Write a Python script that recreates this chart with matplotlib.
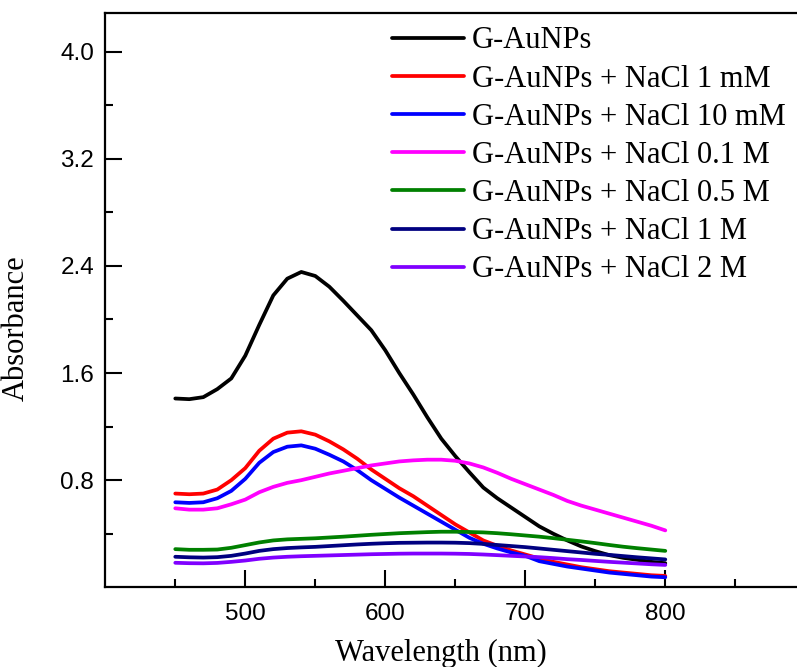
import matplotlib
matplotlib.use("Agg")
import matplotlib.pyplot as plt
from matplotlib.ticker import FixedLocator

wavelength = [450, 460, 470, 480, 490, 500, 510, 520, 530, 540, 550, 560, 570, 580, 590,
              600, 610, 620, 630, 640, 650, 660, 670, 680, 690, 700, 710, 720, 730, 740,
              750, 760, 770, 780, 790, 800]

g_aunps = [1.41, 1.405, 1.42, 1.48, 1.56, 1.73, 1.96, 2.18, 2.305, 2.355, 2.325, 2.245, 2.14,
           2.03, 1.92, 1.77, 1.60, 1.44, 1.27, 1.11, 0.98, 0.86, 0.745, 0.665, 0.595, 0.525,
           0.455, 0.40, 0.35, 0.305, 0.27, 0.24, 0.22, 0.205, 0.19, 0.18]
nacl_1mM = [0.70, 0.695, 0.70, 0.73, 0.80, 0.89, 1.02, 1.11, 1.155, 1.165, 1.14, 1.09, 1.03,
            0.96, 0.88, 0.81, 0.74, 0.68, 0.61, 0.54, 0.47, 0.41, 0.35, 0.31, 0.275, 0.245,
            0.215, 0.19, 0.17, 0.15, 0.135, 0.12, 0.11, 0.10, 0.09, 0.085]
nacl_10mM = [0.635, 0.63, 0.635, 0.665, 0.72, 0.81, 0.93, 1.01, 1.05, 1.06, 1.035, 0.99, 0.94,
             0.875, 0.80, 0.735, 0.67, 0.61, 0.55, 0.49, 0.43, 0.37, 0.325, 0.29, 0.26, 0.235,
             0.195, 0.175, 0.155, 0.14, 0.125, 0.11, 0.10, 0.09, 0.08, 0.075]
nacl_01M = [0.59, 0.58, 0.58, 0.59, 0.62, 0.655, 0.71, 0.75, 0.78, 0.80, 0.825, 0.85, 0.87,
            0.89, 0.91, 0.925, 0.94, 0.948, 0.953, 0.953, 0.945, 0.925, 0.895, 0.855, 0.81,
            0.77, 0.73, 0.69, 0.645, 0.61, 0.58, 0.55, 0.52, 0.49, 0.46, 0.425]
nacl_05M = [0.285, 0.28, 0.28, 0.282, 0.295, 0.315, 0.335, 0.35, 0.358, 0.362, 0.366, 0.372,
            0.378, 0.385, 0.392, 0.398, 0.404, 0.408, 0.412, 0.415, 0.415, 0.413, 0.41, 0.404,
            0.396, 0.387, 0.378, 0.367, 0.355, 0.343, 0.33, 0.316, 0.303, 0.292, 0.282, 0.272]
nacl_1M = [0.228, 0.224, 0.222, 0.225, 0.235, 0.252, 0.272, 0.285, 0.293, 0.298, 0.302, 0.308,
           0.314, 0.32, 0.325, 0.329, 0.332, 0.333, 0.334, 0.334, 0.333, 0.33, 0.324, 0.316,
           0.308, 0.30, 0.29, 0.28, 0.27, 0.26, 0.25, 0.242, 0.233, 0.224, 0.216, 0.208]
nacl_2M = [0.183, 0.18, 0.179, 0.182, 0.19, 0.20, 0.213, 0.222, 0.228, 0.232, 0.235, 0.238,
           0.241, 0.244, 0.247, 0.249, 0.251, 0.252, 0.252, 0.252, 0.251, 0.249, 0.245, 0.24,
           0.235, 0.23, 0.225, 0.218, 0.21, 0.204, 0.197, 0.19, 0.184, 0.178, 0.172, 0.167]

series = [
    ("G-AuNPs", g_aunps, "#000000"),
    ("G-AuNPs + NaCl 1 mM", nacl_1mM, "#FF0000"),
    ("G-AuNPs + NaCl 10 mM", nacl_10mM, "#0000FF"),
    ("G-AuNPs + NaCl 0.1 M", nacl_01M, "#FF00FF"),
    ("G-AuNPs + NaCl 0.5 M", nacl_05M, "#008000"),
    ("G-AuNPs + NaCl 1 M", nacl_1M, "#000080"),
    ("G-AuNPs + NaCl 2 M", nacl_2M, "#8000FF"),
]

y_ticks = [0.8, 1.6, 2.4, 3.2, 4.0]
x_ticks = [500, 600, 700, 800]

fig = plt.figure(figsize=(7.97, 6.67), dpi=100)
ax = fig.add_axes([0.1321, 0.1195, 0.8783, 0.8606])

for label, vals, color in series:
    ax.plot(wavelength, vals, color=color, lw=2.7, label=label,
            solid_capstyle="round", solid_joinstyle="round")

ax.set_xlim(400, 900)
ax.set_ylim(0, 4.287)
ax.xaxis.set_major_locator(FixedLocator(x_ticks))
ax.xaxis.set_minor_locator(FixedLocator([450, 550, 650, 750, 850]))
ax.yaxis.set_major_locator(FixedLocator(y_ticks))
ax.yaxis.set_minor_locator(FixedLocator([0.4, 1.2, 2.0, 2.8, 3.6]))
ax.set_xticklabels([str(t) for t in x_ticks])
ax.set_yticklabels([f"{t:.1f}" for t in y_ticks])

ax.tick_params(which="major", direction="in", length=12, width=1.5, top=False, right=False,
               labelsize=17.5)
ax.tick_params(which="minor", direction="in", length=6, width=1.5, top=False, right=False)
ax.tick_params(axis="x", which="major", pad=11)
ax.tick_params(axis="y", which="major", pad=8)
for lab in ax.get_xticklabels() + ax.get_yticklabels():
    lab.set_fontfamily("Liberation Sans")
for s in ["left", "bottom", "top"]:
    ax.spines[s].set_linewidth(1.6)
ax.spines["right"].set_visible(False)

ax.set_xlabel("Wavelength (nm)", fontfamily="Liberation Serif", fontsize=22)
ax.xaxis.set_label_coords(0.479, -0.09)
ax.set_ylabel("Absorbance", fontfamily="Liberation Serif", fontsize=22)
ax.yaxis.set_label_coords(-0.107, 0.452)

leg = ax.legend(loc="upper left", bbox_to_anchor=(0.383, 1.009), frameon=False,
                prop={"family": "Liberation Serif", "size": 22}, handlelength=2.35,
                handletextpad=0.27, labelspacing=0.3, borderaxespad=0.2)

fig.savefig("out.png", dpi=100)
